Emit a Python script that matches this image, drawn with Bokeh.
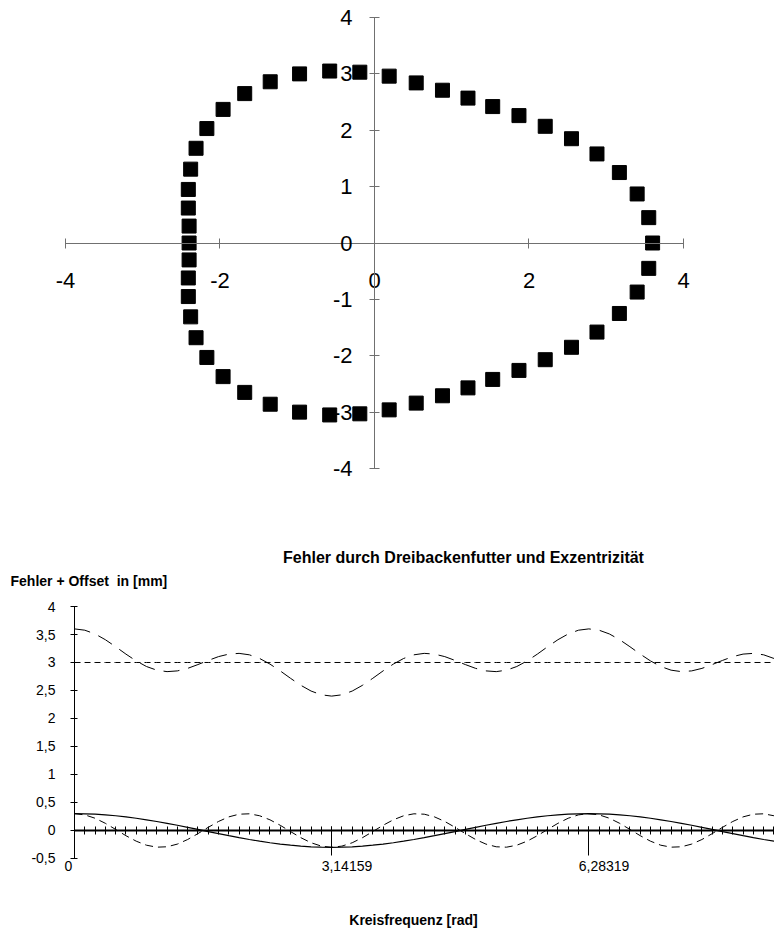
from bokeh.plotting import figure
from bokeh.layouts import column
from bokeh.models import Range1d, FixedTicker, Label, LabelSet, ColumnDataSource
from bokeh.core.properties import value
from bokeh.embed import file_html
from bokeh.resources import INLINE

# ---------------- data: polar plot (x / y of the measured contour) ----------------
polar_x = [3.60, 3.55, 3.40, 3.17, 2.88, 2.55, 2.21, 1.87, 1.53, 1.21, 0.88, 0.54, 0.19,
           -0.19, -0.58, -0.97, -1.35, -1.68, -1.96, -2.17, -2.31, -2.38, -2.41, -2.41, -2.40,
           -2.40, -2.40, -2.41, -2.41, -2.38, -2.31, -2.17, -1.96, -1.68, -1.35, -0.97, -0.58,
           -0.19, 0.19, 0.54, 0.88, 1.21, 1.53, 1.87, 2.21, 2.55, 2.88, 3.17, 3.40, 3.55]
polar_y = [0.00, 0.45, 0.87, 1.25, 1.58, 1.85, 2.07, 2.26, 2.42, 2.57, 2.71, 2.84, 2.96,
           3.03, 3.05, 3.00, 2.86, 2.65, 2.37, 2.03, 1.68, 1.31, 0.95, 0.62, 0.30,
           0.00, -0.30, -0.62, -0.95, -1.31, -1.68, -2.03, -2.37, -2.65, -2.86, -3.00, -3.05,
           -3.03, -2.96, -2.84, -2.71, -2.57, -2.42, -2.26, -2.07, -1.85, -1.58, -1.25, -0.87, -0.45]

top_x_ticks = [-4, -2, 0, 2, 4]
top_x_labels = ["-4", "-2", "0", "2", "4"]
top_y_ticks = [-4, -3, -2, -1, 0, 1, 2, 3, 4]
top_y_labels = ["-4", "-3", "-2", "-1", "0", "1", "2", "3", "4"]
top_axis_bounds = (-4, 4)

# ---------------- data: error curves ----------------
kreisfrequenz = [0.0, 0.1257, 0.2513, 0.3770, 0.5027, 0.6283, 0.7540, 0.8796, 1.0053, 1.1310,
                 1.2566, 1.3823, 1.5080, 1.6336, 1.7593, 1.8850, 2.0106, 2.1363, 2.2619, 2.3876,
                 2.5133, 2.6389, 2.7646, 2.8903, 3.0159, 3.1416, 3.2673, 3.3929, 3.5186, 3.6442,
                 3.7699, 3.8956, 4.0212, 4.1469, 4.2726, 4.3982, 4.5239, 4.6496, 4.7752, 4.9009,
                 5.0265, 5.1522, 5.2779, 5.4035, 5.5292, 5.6549, 5.7805, 5.9062, 6.0319, 6.1575,
                 6.2832, 6.4088, 6.5345, 6.6602, 6.7858, 6.9115, 7.0372, 7.1628, 7.2885, 7.4142,
                 7.5398, 7.6655, 7.7911, 7.9168, 8.0425, 8.1681, 8.2938, 8.4195, 8.5451, 8.6708]

fehler_exzentrizitaet = [0.300, 0.298, 0.291, 0.279, 0.263, 0.243, 0.219, 0.191, 0.161, 0.128,
                         0.093, 0.056, 0.019, -0.019, -0.056, -0.093, -0.128, -0.161, -0.191, -0.219,
                         -0.243, -0.263, -0.279, -0.291, -0.298, -0.300, -0.298, -0.291, -0.279, -0.263,
                         -0.243, -0.219, -0.191, -0.161, -0.128, -0.093, -0.056, -0.019, 0.019, 0.056,
                         0.093, 0.128, 0.161, 0.191, 0.219, 0.243, 0.263, 0.279, 0.291, 0.298,
                         0.300, 0.298, 0.291, 0.279, 0.263, 0.243, 0.219, 0.191, 0.161, 0.128,
                         0.093, 0.056, 0.019, -0.019, -0.056, -0.093, -0.128, -0.161, -0.191, -0.219]

fehler_dreibacken = [0.300, 0.279, 0.219, 0.128, 0.019, -0.093, -0.191, -0.263, -0.298, -0.291,
                     -0.243, -0.161, -0.056, 0.056, 0.161, 0.243, 0.291, 0.298, 0.263, 0.191,
                     0.093, -0.019, -0.128, -0.219, -0.279, -0.300, -0.279, -0.219, -0.128, -0.019,
                     0.093, 0.191, 0.263, 0.298, 0.291, 0.243, 0.161, 0.056, -0.056, -0.161,
                     -0.243, -0.291, -0.298, -0.263, -0.191, -0.093, 0.019, 0.128, 0.219, 0.279,
                     0.300, 0.279, 0.219, 0.128, 0.019, -0.093, -0.191, -0.263, -0.298, -0.291,
                     -0.243, -0.161, -0.056, 0.056, 0.161, 0.243, 0.291, 0.298, 0.263, 0.191]

summe_plus_offset = [3.600, 3.577, 3.510, 3.407, 3.282, 3.150, 3.028, 2.928, 2.863, 2.837,
                     2.850, 2.895, 2.963, 3.037, 3.105, 3.150, 3.163, 3.137, 3.072, 2.972,
                     2.850, 2.718, 2.593, 2.490, 2.423, 2.400, 2.423, 2.490, 2.593, 2.718,
                     2.850, 2.972, 3.072, 3.137, 3.163, 3.150, 3.105, 3.037, 2.963, 2.895,
                     2.850, 2.837, 2.863, 2.928, 3.028, 3.150, 3.282, 3.407, 3.510, 3.577,
                     3.600, 3.577, 3.510, 3.407, 3.282, 3.150, 3.028, 2.928, 2.863, 2.837,
                     2.850, 2.895, 2.963, 3.037, 3.105, 3.150, 3.163, 3.137, 3.072, 2.972]

offset = 3.0

bottom_x_ticks = [0.0, 3.14159, 6.28319]
bottom_x_labels = ["0", "3,14159", "6,28319"]
bottom_y_ticks = [-0.5, 0.0, 0.5, 1.0, 1.5, 2.0, 2.5, 3.0, 3.5, 4.0]
bottom_y_labels = ["-0,5", "0", "0,5", "1", "1,5", "2", "2,5", "3", "3,5", "4"]
bottom_x_bounds = (0.0, 8.552)
bottom_y_bounds = (-0.5, 4.0)

title_text = "Fehler durch Dreibackenfutter und Exzentrizität"
y_title_text = "Fehler + Offset\u00a0 in [mm]"
x_title_text = "Kreisfrequenz [rad]"

FONT = "Liberation Sans"

# ---------------- top figure ----------------
p1 = figure(width=774, height=500, x_range=Range1d(-4.8414, 5.178), y_range=Range1d(-4.5676, 4.3016),
            output_backend="svg", toolbar_location=None,
            min_border=0, min_border_left=0, min_border_right=0, min_border_top=0, min_border_bottom=0)
p1.outline_line_color = None
p1.grid.visible = False
p1.background_fill_color = "white"
p1.border_fill_color = "white"

p1.scatter(polar_x, polar_y, marker="square", size=14, fill_color="black", line_color="black")

axis_grey = "#707070"
xa = p1.xaxis[0]
xa.fixed_location = 0
xa.bounds = top_axis_bounds
xa.ticker = FixedTicker(ticks=top_x_ticks, minor_ticks=[])
xa.major_label_overrides = dict(zip(top_x_ticks, top_x_labels))
ya = p1.yaxis[0]
ya.fixed_location = 0
ya.bounds = top_axis_bounds
ya.ticker = FixedTicker(ticks=top_y_ticks, minor_ticks=[])
ya.major_label_overrides = dict(zip(top_y_ticks, top_y_labels))
for ax in (xa, ya):
    ax.axis_line_color = axis_grey
    ax.axis_line_width = 1
    ax.major_tick_line_color = axis_grey
    ax.major_tick_in = 5
    ax.major_tick_out = 5
    ax.minor_tick_line_color = None
    ax.major_label_text_font = FONT
    ax.major_label_text_font_size = "22px"
    ax.major_label_text_color = "black"
xa.major_label_standoff = 25
ya.major_label_standoff = 17

# ---------------- bottom figure ----------------
p2 = figure(width=774, height=430, x_range=Range1d(-0.9041, 8.552), y_range=Range1d(-1.786, 5.893),
            output_backend="svg", toolbar_location=None,
            min_border=0, min_border_left=0, min_border_right=0, min_border_top=0, min_border_bottom=0)
p2.outline_line_color = None
p2.grid.visible = False
p2.background_fill_color = "white"
p2.border_fill_color = "white"

p2.line(kreisfrequenz, [offset] * len(kreisfrequenz), line_color="black", line_width=1,
        line_dash="6 4")
p2.line(kreisfrequenz, summe_plus_offset, line_color="black", line_width=1, line_dash="16 9")
p2.line(kreisfrequenz, fehler_dreibacken, line_color="black", line_width=1, line_dash="8 5")
p2.line(kreisfrequenz, fehler_exzentrizitaet, line_color="black", line_width=1.2)

bx = p2.xaxis[0]
bx.fixed_location = 0
bx.bounds = bottom_x_bounds
bx.ticker = FixedTicker(ticks=bottom_x_ticks, minor_ticks=kreisfrequenz)
bx.axis_line_color = "black"
bx.axis_line_width = 2
bx.major_tick_line_color = "black"
bx.major_tick_in = 4
bx.major_tick_out = 25
bx.minor_tick_line_color = "black"
bx.minor_tick_in = 4
bx.minor_tick_out = 4
bx.major_label_text_color = None

by = p2.yaxis[0]
by.fixed_location = 0
by.bounds = bottom_y_bounds
by.ticker = FixedTicker(ticks=bottom_y_ticks, minor_ticks=[])
by.major_label_overrides = dict(zip(bottom_y_ticks, bottom_y_labels))
by.axis_line_color = "black"
by.major_tick_line_color = "black"
by.major_tick_in = 3
by.major_tick_out = 4
by.minor_tick_line_color = None
by.major_label_standoff = 15
by.major_label_text_font = FONT
by.major_label_text_font_size = "14px"
by.major_label_text_color = "black"

tick_src = ColumnDataSource(dict(x=bottom_x_ticks, text=bottom_x_labels))
p2.add_layout(LabelSet(x="x", y=-0.643, text="text", source=tick_src, x_offset=-10,
                       text_align="left", text_baseline="middle", text_font=value(FONT),
                       text_font_size=value("14px"), text_color="black"))

p2.add_layout(Label(x=4.752, y=4.875, text=title_text, text_align="center",
                    text_baseline="middle", text_font=FONT, text_font_size="16px",
                    text_font_style="bold", text_color="black"))
p2.add_layout(Label(x=-0.782, y=4.464, text=y_title_text, text_align="left",
                    text_baseline="middle", text_font=FONT, text_font_size="14px",
                    text_font_style="bold", text_color="black"))
p2.add_layout(Label(x=4.141, y=-1.59, text=x_title_text, text_align="center",
                    text_baseline="middle", text_font=FONT, text_font_size="14px",
                    text_font_style="bold", text_color="black"))

layout = column(p1, p2, spacing=0)
open("out.html", "w").write(file_html(layout, INLINE))
